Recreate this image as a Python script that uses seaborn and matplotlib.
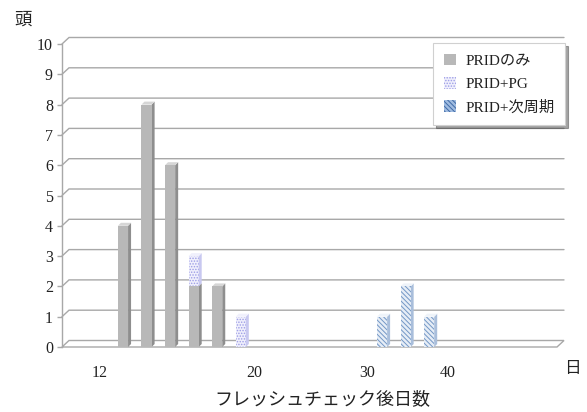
import numpy as np
import pandas as pd
import matplotlib
matplotlib.use("Agg")
import matplotlib.pyplot as plt
from matplotlib.patches import Polygon, Patch
import seaborn as sns

# ---- data -------------------------------------------------------------
bins = list(range(14))                       # consecutive day bins on the x axis
prid_only = [4, 8, 6, 2, 2, 0, 0, 0, 0, 0, 0, 0, 0, 0]
prid_pg   = [0, 0, 0, 1, 0, 1, 0, 0, 0, 0, 0, 0, 0, 0]
prid_next = [0, 0, 0, 0, 0, 0, 0, 0, 0, 0, 0, 1, 2, 1]
series_names = ["PRIDのみ", "PRID+PG", "PRID+次周期"]

x_tick_labels = ["12", "20", "30", "40"]
x_tick_pos = [-1.0, 5.56, 10.37, 13.78]
y_ticks = list(range(0, 11))

# ---- style ------------------------------------------------------------
sns.set_theme(style="white")
FONTS = ["Liberation Serif", "Noto Sans CJK JP", "DejaVu Sans"]
plt.rcParams["font.family"] = FONTS
plt.rcParams["hatch.linewidth"] = 0.7

GRID = "#a8a8a8"
GRAY_FRONT, GRAY_SIDE, GRAY_TOP = "#b8b8b8", "#8e8e8e", "#d6d6d6"
PG_FACE, PG_HATCH, PG_SIDE = "#f0f0fc", "#9c9ce6", "#c8c8f0"
NX_FACE, NX_HATCH, NX_SIDE = "#e6edf6", "#7397c6", "#a9bedb"
PG_PATTERN = "......"
NX_PATTERN = "\\\\\\\\\\\\\\"

W, H = 587, 412
fig = plt.figure(figsize=(W / 100, H / 100), dpi=100)
ax_l, ax_r, ax_b, ax_t = 62, 557, 65, 368          # axes box in pixels
ax = fig.add_axes([ax_l / W, ax_b / H, (ax_r - ax_l) / W, (ax_t - ax_b) / H])
xmin, xmax = -2.59, 18.43
ymin, ymax = 0, 10
ax.set_xlim(xmin, xmax)
ax.set_ylim(ymin, ymax)

px_x = (ax_r - ax_l) / (xmax - xmin)
px_y = (ax_t - ax_b) / (ymax - ymin)
depth_dx, depth_dy = 7 / px_x, 6.5 / px_y     # back wall offset
bar_dx, bar_dy = 3 / px_x, 3 / px_y           # bar depth

# ---- walls and gridlines ---------------------------------------------
floor = Polygon([(xmin, 0), (xmax, 0), (xmax + depth_dx, depth_dy), (xmin + depth_dx, depth_dy)],
                closed=True, facecolor="white", edgecolor=GRID, lw=1.0, clip_on=False, zorder=1)
ax.add_patch(floor)
for v in y_ticks[1:]:
    ax.plot([xmin, xmin + depth_dx, xmax + depth_dx], [v, v + depth_dy, v + depth_dy],
            color=GRID, lw=1.0, clip_on=False, zorder=1, solid_joinstyle="miter")

# ---- bars -------------------------------------------------------------
bw = 0.43
df = pd.DataFrame({"bin": bins, "only": prid_only, "pg": prid_pg, "nxt": prid_next})
df["pg_total"] = df["only"] + df["pg"]


def native_width(sub):
    # seaborn scales native-scale widths by the smallest gap between positions
    u = np.unique(sub["bin"])
    gap = np.diff(u).min() if len(u) > 1 else 1
    return bw / gap


def faces(x, bottom, top, side, topc, draw_top=True):
    xr = x + bw / 2
    ax.add_patch(Polygon([(xr, bottom), (xr + bar_dx, bottom + bar_dy), (xr + bar_dx, top + bar_dy), (xr, top)],
                         closed=True, facecolor=side, edgecolor="none", zorder=3))
    if draw_top:
        ax.add_patch(Polygon([(x - bw / 2, top), (x - bw / 2 + bar_dx, top + bar_dy),
                              (xr + bar_dx, top + bar_dy), (xr, top)],
                             closed=True, facecolor=topc, edgecolor="none", zorder=3))


# PRID+PG drawn as the total height; PRIDのみ covers its lower part
pg_df = df[df["pg"] > 0]
sns.barplot(data=pg_df, x="bin", y="pg_total", native_scale=True, width=native_width(pg_df),
            color=PG_FACE, saturation=1, ax=ax, zorder=2,
            hatch=PG_PATTERN, edgecolor=PG_HATCH, linewidth=0)
for _, r in pg_df.iterrows():
    faces(r["bin"], r["only"], r["pg_total"], PG_SIDE, PG_FACE)

only_df = df[df["only"] > 0]
sns.barplot(data=only_df, x="bin", y="only", native_scale=True, width=native_width(only_df),
            color=GRAY_FRONT, saturation=1, ax=ax, zorder=4, linewidth=0)
for _, r in only_df.iterrows():
    faces(r["bin"], 0, r["only"], GRAY_SIDE, GRAY_TOP, draw_top=(r["pg"] == 0))

nx_df = df[df["nxt"] > 0]
sns.barplot(data=nx_df, x="bin", y="nxt", native_scale=True, width=native_width(nx_df),
            color=NX_FACE, saturation=1, ax=ax, zorder=4,
            hatch=NX_PATTERN, edgecolor=NX_HATCH, linewidth=0)
for _, r in nx_df.iterrows():
    faces(r["bin"], 0, r["nxt"], NX_SIDE, "#eef3f9")

ax.set_xlim(xmin, xmax)
ax.set_ylim(ymin, ymax)

# ---- axes -------------------------------------------------------------
for s in ["top", "right", "bottom"]:
    ax.spines[s].set_visible(False)
ax.spines["left"].set_color(GRID)
ax.spines["left"].set_linewidth(1.0)
ax.set_yticks(y_ticks)
ax.set_yticklabels([str(v) for v in y_ticks], fontsize=11.5, color="#222222")
ax.tick_params(axis="y", length=3.5, width=1.0, color=GRID, pad=3, left=True)
ax.set_xticks(x_tick_pos)
ax.set_xticklabels(x_tick_labels, fontsize=11.5, color="#222222")
ax.tick_params(axis="x", length=0, pad=13)
ax.set_xlabel("")
ax.set_ylabel("")
ax.grid(False)

fig.text(23 / W, 1 - 21 / H, "頭", fontsize=12.5, ha="center", va="center", color="#222222")
fig.text(572 / W, 1 - 369 / H, "日", fontsize=12, ha="center", va="center", color="#222222")
fig.text(322 / W, 1 - 400 / H, "フレッシュチェック後日数", fontsize=13, ha="center", va="center",
         color="#222222")

# ---- legend -----------------------------------------------------------
handles = [
    Patch(facecolor=GRAY_FRONT, edgecolor=GRAY_FRONT, lw=0),
    Patch(facecolor=PG_FACE, edgecolor=PG_HATCH, hatch=PG_PATTERN, lw=0),
    Patch(facecolor="#9fbbe0", edgecolor="#3f6aa6", hatch=NX_PATTERN, lw=0),
]
leg = ax.legend(handles, series_names, loc="upper right",
                bbox_to_anchor=(565 / W, 1 - 43 / H), bbox_transform=fig.transFigure,
                fontsize=11, frameon=True, fancybox=False, shadow=True,
                handlelength=0.8, handleheight=0.8, handletextpad=0.6,
                labelspacing=0.6, borderpad=0.7, borderaxespad=0)
leg.get_frame().set_edgecolor("#d0d0d0")
leg.get_frame().set_linewidth(0.8)
for t in leg.get_texts():
    t.set_color("#222222")

fig.savefig("out.png", dpi=100)
